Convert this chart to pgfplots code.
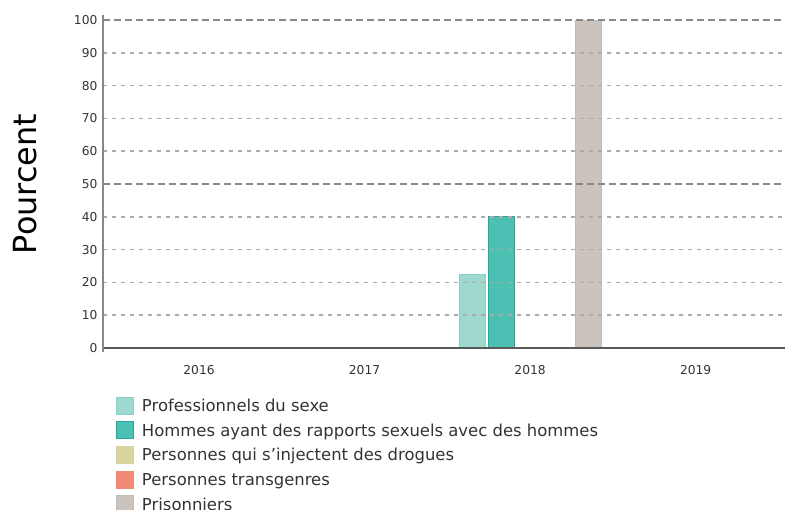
\documentclass[border=0pt]{standalone}
\usepackage{fontspec}
\setmainfont{DejaVu Sans}
\usepackage{pgfplots}
\pgfplotsset{compat=1.18}
\definecolor{cPS}{HTML}{9ED8CF}
\definecolor{cPSe}{HTML}{8CCFC4}
\definecolor{cMSM}{HTML}{4CC0B3}
\definecolor{cMSMe}{HTML}{2AA596}
\definecolor{cPWID}{HTML}{D9D49F}
\definecolor{cTG}{HTML}{F28B75}
\definecolor{cPR}{HTML}{CAC3BE}
\definecolor{cPRe}{HTML}{C2BBB6}
\definecolor{gridlight}{HTML}{ABABAB}
\definecolor{griddark}{HTML}{888888}
\definecolor{txt}{HTML}{333333}
\begin{document}
\begin{tikzpicture}
\begin{axis}[
  name=ax,
  scale only axis,
  width=682bp, height=328bp,
  xmin=-0.58, xmax=3.54,
  ymin=0, ymax=100,
  axis lines=left,
  axis on top,
  x axis line style={-, color=black!65, line width=1.6bp},
  y axis line style={-, color=griddark, line width=2bp, shorten >=-5bp, shorten <=-4bp},
  xtick={0,1,2,3},
  xticklabels={2016,2017,2018,2019},
  ytick={0,10,20,30,40,60,70,80,90},
  extra y ticks={50,100},
  extra y tick style={grid style={color=griddark, line width=2.2bp, dash pattern=on 7bp off 4bp}},
  tick style={draw=none},
  ymajorgrids,
  grid style={color=gridlight, line width=1.6bp, dash pattern=on 4bp off 5bp},
  /pgf/number format/assume math mode=true,
  ticklabel style={font=\fontsize{12.3}{14}\selectfont, text=txt},
  yticklabel style={xshift=0bp},
  xticklabel style={yshift=-12bp},
  ylabel={Pourcent},
  ylabel style={font=\fontsize{32}{36}\selectfont, text=black, at={(rel axis cs:0,0.5)}, anchor=center, yshift=78bp},
  bar width=26bp,
  legend cell align=left,
  legend style={
    at={([shift={(13bp,-45bp)}]rel axis cs:0,0)}, anchor=north west,
    draw=none, fill=none, inner sep=0pt, row sep=0pt,
    font=\fontsize{16.5}{19}\selectfont, text=txt,
    nodes={inner sep=0pt, minimum height=24.6bp, text depth=0pt, anchor=base west},
  },
  legend image code/.code={\fill[#1] (0bp,-2.5bp) rectangle (17bp,14.5bp);},
  every axis legend/.append style={column sep=8bp},
]
\addplot[ybar, bar shift=-58bp, fill=cPS, draw=cPSe, line width=0.8bp] coordinates {(2,22.5)};
\addlegendentry{Professionnels du sexe}
\addplot[ybar, bar shift=-29bp, fill=cMSM, draw=cMSMe, line width=0.8bp] coordinates {(2,40)};
\addlegendentry{Hommes ayant des rapports sexuels avec des hommes}
\addlegendimage{fill=cPWID, draw=cPWID}
\addlegendentry{Personnes qui s’injectent des drogues}
\addlegendimage{fill=cTG, draw=cTG}
\addlegendentry{Personnes transgenres}
\addplot[ybar, bar shift=58bp, fill=cPR, draw=cPRe, line width=0.8bp] coordinates {(2,100)};
\addlegendentry{Prisonniers}
\end{axis}
\pgfresetboundingbox
\path ([shift={(-103bp,-162bp)}]ax.south west) rectangle ([shift={(0bp,20bp)}]ax.north east);
\end{tikzpicture}
\end{document}
